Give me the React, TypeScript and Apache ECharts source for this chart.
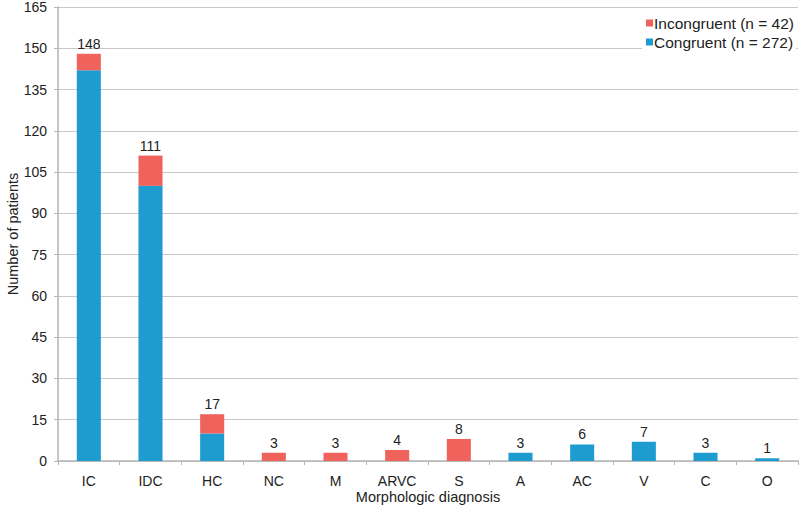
import React, { useEffect, useRef } from "react";
import * as echarts from "echarts";

const categories = ["IC", "IDC", "HC", "NC", "M", "ARVC", "S", "A", "AC", "V", "C", "O"];
const congruent = [142, 100, 10, 0, 0, 0, 0, 3, 6, 7, 3, 1];
const incongruent = [6, 11, 7, 3, 3, 4, 8, 0, 0, 0, 0, 0];
const yTicks = { min: 0, max: 165, interval: 15 };
const legendNames = ["Incongruent (n = 42)", "Congruent (n = 272)"];

export default function App() {
  const ref = useRef<HTMLDivElement>(null);
  useEffect(() => {
    if (!ref.current) return;
    const chart = echarts.init(ref.current, undefined, { renderer: "svg" });
    const totals = categories.map((_, i) => congruent[i] + incongruent[i]);
    const font = "Liberation Sans, Arial, sans-serif";
    chart.setOption({
      animation: false,
      textStyle: { fontFamily: font },
      grid: { left: 58, right: 2, top: 7, bottom: 53, containLabel: false, outerBoundsMode: "none" },
      legend: {
        data: [legendNames[0], legendNames[1]],
        orient: "vertical",
        right: 4,
        top: 13,
        itemWidth: 7,
        itemHeight: 7,
        itemGap: 3,
        icon: "rect",
        backgroundColor: "#ffffff",
        padding: [2, 2, 2, 4],
        textStyle: { fontSize: 15.5, color: "#222", fontFamily: font, padding: [0, 0, 0, -4] },
      },
      xAxis: {
        type: "category",
        data: categories,
        name: "Morphologic diagnosis",
        nameLocation: "middle",
        nameGap: 28,
        nameMoveOverlap: false,
        nameTextStyle: { fontSize: 14.5, color: "#222" },
        axisLine: { lineStyle: { color: "#b5b5b5", width: 1.5 } },
        axisTick: { show: true, length: 4, lineStyle: { color: "#b5b5b5" } },
        axisLabel: { fontSize: 14, color: "#222", margin: 13 },
      },
      yAxis: {
        type: "value",
        min: yTicks.min,
        max: yTicks.max,
        interval: yTicks.interval,
        name: "Number of patients",
        nameLocation: "middle",
        nameGap: 38,
        nameMoveOverlap: false,
        nameTextStyle: { fontSize: 14.5, color: "#222" },
        axisLine: { show: true, lineStyle: { color: "#b5b5b5", width: 1.5 } },
        axisTick: { show: true, length: 4, lineStyle: { color: "#b5b5b5" } },
        axisLabel: { fontSize: 14, color: "#222", margin: 11 },
        splitLine: { lineStyle: { color: "#c8c8c8", width: 1.2 } },
      },
      series: [
        {
          name: legendNames[1],
          type: "bar",
          stack: "total",
          data: congruent,
          barWidth: "39%",
          itemStyle: { color: "#1e9bcf" },
        },
        {
          name: legendNames[0],
          type: "bar",
          stack: "total",
          data: incongruent,
          barWidth: "39%",
          itemStyle: { color: "#f0625c" },
          label: {
            show: true,
            position: "top",
            distance: 3,
            fontSize: 14,
            color: "#222",
            formatter: (p: any) => String(totals[p.dataIndex]),
          },
        },
      ],
    });
    return () => chart.dispose();
  }, []);
  return (
    <div
      ref={ref}
      style={{ position: "fixed", left: 0, top: 0, width: 800, height: 514, background: "#fff" }}
    />
  );
}
